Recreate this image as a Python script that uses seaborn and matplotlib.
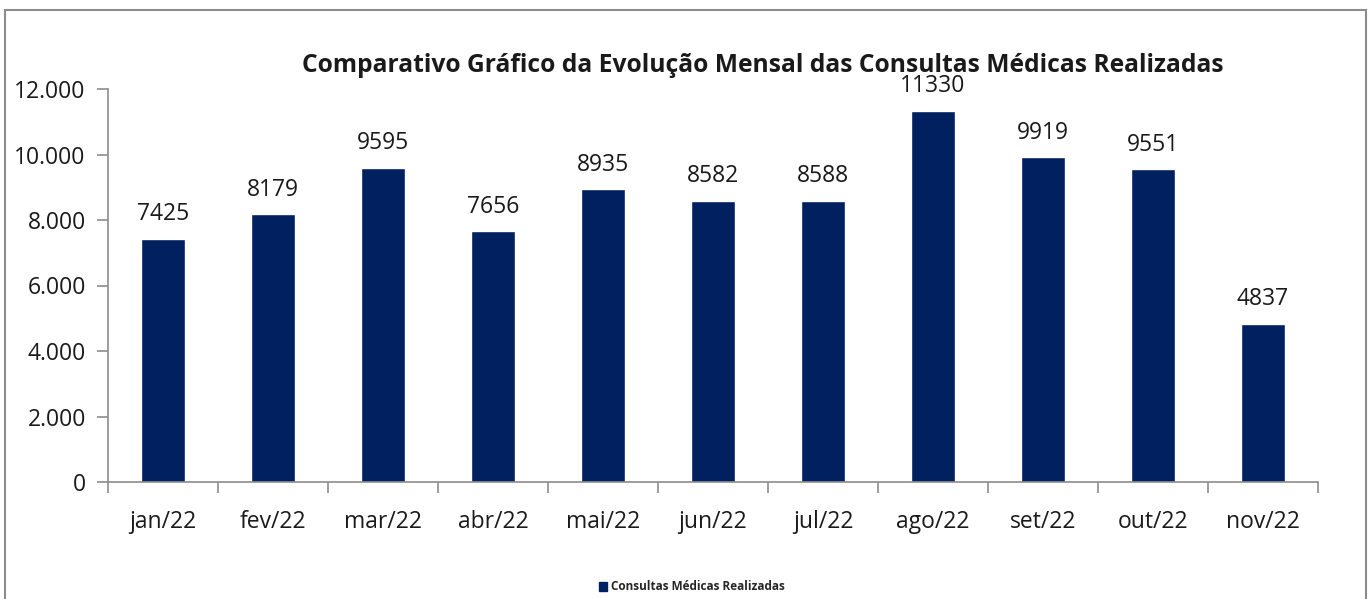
import matplotlib
matplotlib.use("Agg")
import matplotlib.pyplot as plt
import matplotlib.patches as mpatches
from matplotlib.ticker import FuncFormatter, FixedLocator
import seaborn as sns
import pandas as pd

months = ["jan/22", "fev/22", "mar/22", "abr/22", "mai/22", "jun/22",
          "jul/22", "ago/22", "set/22", "out/22", "nov/22"]
consultas = [7425, 8179, 9595, 7656, 8935, 8582, 8588, 11330, 9919, 9551, 4837]
series_name = "Consultas Médicas Realizadas"
title = "Comparativo Gráfico da Evolução Mensal das Consultas Médicas Realizadas"

df = pd.DataFrame({"mes": months, "valor": consultas, "serie": series_name})

sns.set_style("white")
plt.rcParams["font.family"] = ["Open Sans", "DejaVu Sans"]

W, H = 1372, 599
fig = plt.figure(figsize=(W / 100, H / 100), dpi=100)
ax = fig.add_axes([108 / W, 1 - 482 / H, (1318 - 108) / W, (482 - 89) / H])

color = "#002060"
sns.barplot(data=df, x="mes", y="valor", color=color, width=0.4, ax=ax,
            saturation=1, errorbar=None)

ax.set_ylim(0, 12000)
ax.set_xlim(-0.5, len(months) - 0.5)
ax.yaxis.set_major_locator(FixedLocator(range(0, 12001, 2000)))
ax.yaxis.set_major_formatter(FuncFormatter(lambda v, p: f"{int(v):,}".replace(",", ".")))
ax.set_xlabel("")
ax.set_ylabel("")

for s in ["top", "right"]:
    ax.spines[s].set_visible(False)
for s in ["left", "bottom"]:
    ax.spines[s].set_color("#8c8c8c")
    ax.spines[s].set_linewidth(1.2)

ax.tick_params(axis="y", direction="out", length=8, width=1.2, color="#8c8c8c",
               labelsize=16.5, pad=8, left=True, labelcolor="#1a1a1a")
ax.tick_params(axis="x", which="major", length=0, labelsize=16.5, pad=20,
               labelcolor="#1a1a1a")
ax.set_xticks(range(len(months)))
ax.set_xticklabels(months)
ax.set_xticks([i + 0.5 for i in range(-1, len(months))], minor=True)
ax.tick_params(axis="x", which="minor", direction="out", length=8, width=1.2,
               color="#8c8c8c", bottom=True)

for p, v in zip(ax.patches, consultas):
    ax.annotate(str(v), (p.get_x() + p.get_width() / 2, p.get_height()),
                xytext=(0, 9), textcoords="offset points", ha="center",
                va="bottom", fontsize=16.5, color="#1a1a1a")

fig.text(763 / W, 1 - 66 / H, title, ha="center", va="center",
         fontsize=17.7, fontweight="bold", color="#1a1a1a")

handle = mpatches.Patch(color=color, label=series_name)
fig.legend(handles=[handle], loc="center", bbox_to_anchor=(692 / W, 1 - 587 / H),
           frameon=False, handlelength=0.7, handleheight=0.8,
           handletextpad=0.3, prop={"weight": "bold", "size": 8.5})

frame = mpatches.Rectangle((5 / W, -0.05), (1366 - 5) / W, (1 - 10 / H) + 0.05,
                           transform=fig.transFigure, fill=False,
                           edgecolor="#8c8c8c", linewidth=1.5)
fig.patches.append(frame)

fig.savefig("out.png", dpi=100, facecolor="white")
